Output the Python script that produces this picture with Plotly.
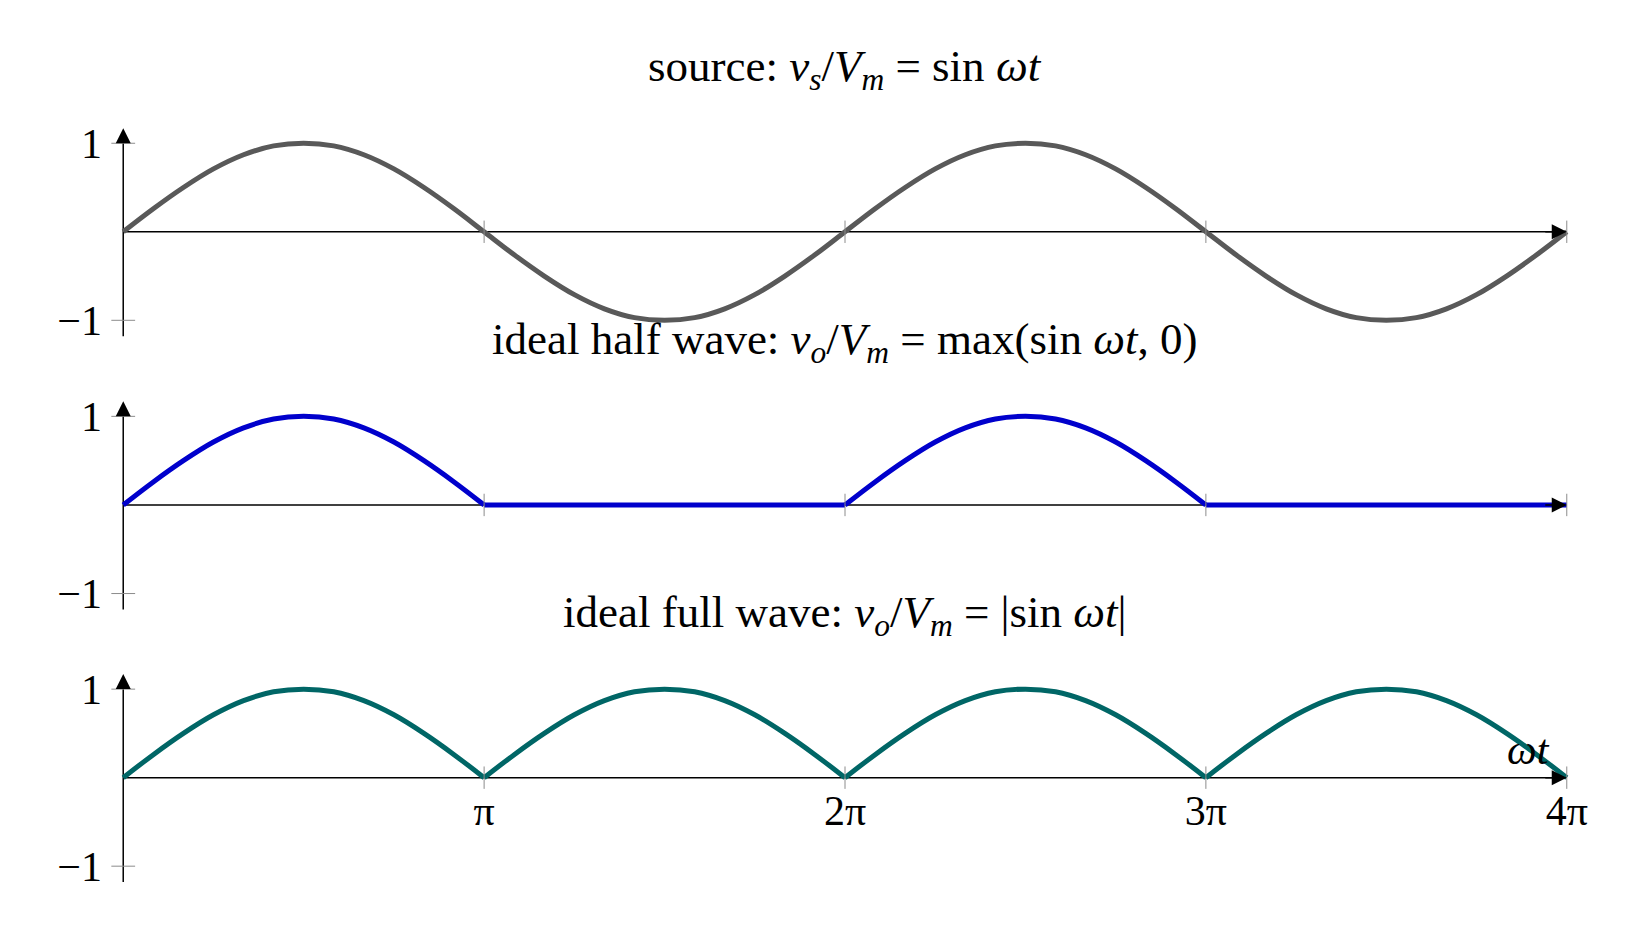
import numpy as np
import plotly.graph_objects as go

# phase angle (degrees), one sample every 15 degrees over two periods
wt_deg = [0, 15, 30, 45, 60, 75, 90, 105, 120, 135, 150, 165,
          180, 195, 210, 225, 240, 255, 270, 285, 300, 315, 330, 345,
          360, 375, 390, 405, 420, 435, 450, 465, 480, 495, 510, 525,
          540, 555, 570, 585, 600, 615, 630, 645, 660, 675, 690, 705, 720]

source = [0, .26, .5, .71, .87, .97, 1, .97, .87, .71, .5, .26,
          0, -.26, -.5, -.71, -.87, -.97, -1, -.97, -.87, -.71, -.5, -.26,
          0, .26, .5, .71, .87, .97, 1, .97, .87, .71, .5, .26,
          0, -.26, -.5, -.71, -.87, -.97, -1, -.97, -.87, -.71, -.5, -.26, 0]

half_wave = [0, .26, .5, .71, .87, .97, 1, .97, .87, .71, .5, .26,
             0, 0, 0, 0, 0, 0, 0, 0, 0, 0, 0, 0,
             0, .26, .5, .71, .87, .97, 1, .97, .87, .71, .5, .26,
             0, 0, 0, 0, 0, 0, 0, 0, 0, 0, 0, 0, 0]

full_wave = [0, .26, .5, .71, .87, .97, 1, .97, .87, .71, .5, .26,
             0, .26, .5, .71, .87, .97, 1, .97, .87, .71, .5, .26,
             0, .26, .5, .71, .87, .97, 1, .97, .87, .71, .5, .26,
             0, .26, .5, .71, .87, .97, 1, .97, .87, .71, .5, .26, 0]

x_ticks_pi = [1, 2, 3, 4]
x_tick_text = ['π', '2π', '3π', '4π']
y_ticks = [-1, 1]
y_tick_text = ['−1', '1']

titles = [
    'source: <i>v<sub>s</sub></i>/<i>V<sub>m</sub></i> = sin <i>ωt</i>',
    'ideal half wave: <i>v<sub>o</sub></i>/<i>V<sub>m</sub></i> = max(sin <i>ωt</i>, 0)',
    'ideal full wave: <i>v<sub>o</sub></i>/<i>V<sub>m</sub></i> = |sin <i>ωt</i>|',
]
colors = ['#595959', '#0000cc', '#006666']
series = [source, half_wave, full_wave]

FONT = 'Liberation Serif'
x = np.radians(wt_deg)
xmax = 4 * np.pi
domains = [[0.6337, 0.8761], [0.3344, 0.5770], [0.0358, 0.2782]]

fig = go.Figure()
shapes = []
annotations = []
layout = {}

for i, vals in enumerate(series):
    n = '' if i == 0 else str(i + 1)
    xa, ya = 'x' + n, 'y' + n

    # draw each half period as its own smooth piece so the corners stay sharp
    if i == 0:
        pieces = [(0, len(x))]
    else:
        pieces = [(s, s + 13) for s in range(0, len(x) - 1, 12)]
    for a, b in pieces:
        fig.add_trace(go.Scatter(x=x[a:b], y=vals[a:b], mode='lines', xaxis=xa, yaxis=ya,
                                 line=dict(color=colors[i], width=5, shape='spline'),
                                 showlegend=False, hoverinfo='skip'))
    # small tick marks crossing the axes
    fig.add_trace(go.Scatter(x=[k * np.pi for k in x_ticks_pi], y=[0] * len(x_ticks_pi),
                             mode='markers', xaxis=xa, yaxis=ya, cliponaxis=False,
                             marker=dict(symbol='line-ns', size=16,
                                         line=dict(color='#8c8c8c', width=1)),
                             showlegend=False, hoverinfo='skip'))
    fig.add_trace(go.Scatter(x=[0] * len(y_ticks), y=y_ticks,
                             mode='markers', xaxis=xa, yaxis=ya, cliponaxis=False,
                             marker=dict(symbol='line-ew', size=17,
                                         line=dict(color='#8c8c8c', width=1)),
                             showlegend=False, hoverinfo='skip'))

    dom = domains[i]
    layout['xaxis' + n] = dict(
        range=[-0.15, xmax + 0.15], domain=[0, 1], anchor='free',
        position=(dom[0] + dom[1]) / 2,
        showgrid=False, zeroline=False, showline=False, ticks='',
        tickvals=[k * np.pi for k in x_ticks_pi], ticktext=x_tick_text,
        showticklabels=(i == 2), ticklabelstandoff=4,
        tickfont=dict(family=FONT, size=42, color='black'))
    layout['yaxis' + n] = dict(
        range=[-1.25, 1.25], domain=dom, anchor=xa,
        showgrid=False, zeroline=False, showline=False, ticks='',
        tickvals=y_ticks, ticktext=y_tick_text, ticklabelstandoff=3,
        tickfont=dict(family=FONT, size=42, color='black'))

    # axis lines (under the curves) with arrow heads
    shapes.append(dict(type='line', xref=xa, yref=ya, x0=0, x1=xmax - 0.1, y0=0, y1=0,
                       line=dict(color='black', width=1.5), layer='below'))
    shapes.append(dict(type='line', xref=xa, yref=ya, x0=0, x1=0, y0=-1.18, y1=1.1,
                       line=dict(color='black', width=1.5), layer='below'))
    annotations.append(dict(xref=xa, yref=ya, axref=xa, ayref=ya, x=xmax, y=0,
                            ax=xmax - 0.2, ay=0, text='', showarrow=True,
                            arrowhead=2, arrowsize=2, arrowwidth=1.5, arrowcolor='black'))
    annotations.append(dict(xref=xa, yref=ya, axref=xa, ayref=ya, x=0, y=1.17,
                            ax=0, ay=1.0, text='', showarrow=True,
                            arrowhead=2, arrowsize=2, arrowwidth=1.5, arrowcolor='black'))
    annotations.append(dict(xref=xa + ' domain', yref=ya + ' domain', x=0.5, y=1.235,
                            xanchor='center', yanchor='middle', showarrow=False,
                            text=titles[i], font=dict(family=FONT, size=45, color='black')))

annotations.append(dict(xref='x3', yref='y3', x=xmax, y=0, xanchor='right', yanchor='middle',
                        xshift=-15, yshift=28, showarrow=False, text='<i>ωt</i>',
                        font=dict(family=FONT, size=42, color='black')))

fig.update_layout(
    width=1621, height=915,
    margin=dict(l=98, r=45, t=0, b=0),
    plot_bgcolor='white', paper_bgcolor='white',
    shapes=shapes, annotations=annotations,
    **layout)

fig.write_html('out.html')
